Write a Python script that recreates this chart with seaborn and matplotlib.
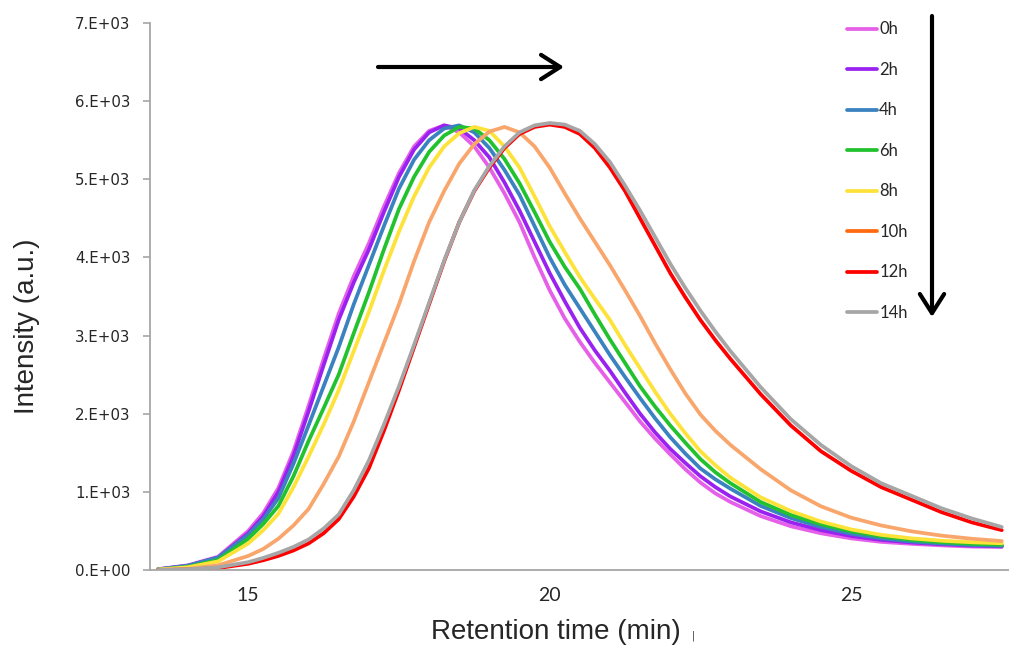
import numpy as np
import pandas as pd
import seaborn as sns
import matplotlib.pyplot as plt
from matplotlib.lines import Line2D

# retention time (min) and intensity
rt = [13.5, 14.0, 14.5,
      15.0, 15.25, 15.5, 15.75, 16.0, 16.25, 16.5, 16.75, 17.0, 17.25, 17.5, 17.75,
      18.0, 18.25, 18.5, 18.75, 19.0, 19.25, 19.5, 19.75, 20.0, 20.25, 20.5, 20.75,
      21.0, 21.25, 21.5, 21.75, 22.0, 22.25, 22.5, 22.75, 23.0,
      23.5, 24.0, 24.5, 25.0, 25.5, 26.0, 26.5, 27.0, 27.5]

h0 = [10, 60, 170,
      500, 730, 1050, 1520, 2100, 2700, 3280, 3760, 4180, 4650, 5080, 5420,
      5620, 5690, 5600, 5420, 5150, 4820, 4450, 4000, 3580, 3220, 2920, 2650,
      2400, 2150, 1900, 1680, 1480, 1290, 1120, 980, 870,
      690, 560, 470, 405, 360, 335, 315, 300, 295]
h2 = [8, 55, 160,
      470, 690, 1000, 1460, 2030, 2620, 3200, 3680, 4100, 4580, 5030, 5380,
      5600, 5690, 5650, 5500, 5280, 4960, 4600, 4200, 3800, 3440, 3100, 2810,
      2550, 2270, 2000, 1760, 1550, 1370, 1200, 1060, 940,
      750, 610, 510, 435, 385, 352, 330, 312, 302]
h4 = [8, 55, 160,
      450, 650, 920, 1360, 1850, 2350, 2850, 3400, 3900, 4400, 4880, 5250,
      5500, 5650, 5690, 5600, 5400, 5120, 4800, 4400, 4000, 3650, 3350, 3050,
      2750, 2470, 2200, 1940, 1700, 1490, 1300, 1160, 1040,
      820, 665, 550, 465, 405, 365, 338, 320, 308]
h6 = [5, 40, 130,
      400, 590, 820, 1200, 1650, 2070, 2500, 3030, 3550, 4100, 4620, 5030,
      5350, 5560, 5670, 5650, 5500, 5260, 4950, 4580, 4200, 3880, 3600, 3270,
      2950, 2650, 2350, 2090, 1850, 1630, 1420, 1250, 1110,
      870, 705, 585, 495, 430, 385, 355, 335, 322]
h8 = [5, 35, 110,
      340, 510, 720, 1060, 1450, 1860, 2300, 2800, 3300, 3830, 4330, 4780,
      5150, 5420, 5590, 5670, 5620, 5420, 5150, 4780, 4400, 4070, 3750, 3470,
      3200, 2880, 2580, 2280, 2000, 1750, 1520, 1340, 1180,
      930, 755, 620, 520, 450, 405, 375, 355, 342]
h10 = [3, 15, 60,
       180, 270, 400, 570, 780, 1100, 1450, 1900, 2400, 2900, 3400, 3950,
       4450, 4850, 5200, 5450, 5610, 5670, 5600, 5420, 5150, 4820, 4500, 4200,
       3900, 3580, 3250, 2900, 2570, 2260, 1990, 1780, 1600,
       1290, 1020, 815, 670, 570, 495, 440, 400, 370]
h12 = [0, 5, 25,
       80, 125, 180, 250, 340, 470, 650, 940, 1300, 1780, 2300, 2850,
       3400, 3950, 4450, 4850, 5150, 5400, 5580, 5670, 5700, 5670, 5580, 5400,
       5150, 4850, 4500, 4150, 3800, 3490, 3200, 2940, 2700,
       2250, 1850, 1520, 1270, 1060, 900, 740, 610, 510]
h14 = [0, 10, 35,
       100, 155, 220, 295, 390, 530, 710, 1020, 1400, 1860, 2350, 2880,
       3420, 3960, 4450, 4860, 5170, 5420, 5600, 5690, 5720, 5700, 5620, 5450,
       5220, 4920, 4600, 4260, 3920, 3610, 3320, 3050, 2800,
       2340, 1930, 1600, 1330, 1110, 950, 790, 660, 550]

labels = ['0h', '2h', '4h', '6h', '8h', '10h', '12h', '14h']
series = [h0, h2, h4, h6, h8, h10, h12, h14]
line_colors = ['#E65FE8', '#9A22F0', '#3A82C0', '#22C22E', '#FDE23A', '#F9A66C', '#FF0000', '#A6A6A6']
legend_colors = ['#E65FE8', '#9A22F0', '#3A82C0', '#22C22E', '#FDE23A', '#FF6A10', '#FF0000', '#A6A6A6']
ytick_vals = [0, 1000, 2000, 3000, 4000, 5000, 6000, 7000]
ytick_labels = ['0.E+00', '1.E+03', '2.E+03', '3.E+03', '4.E+03', '5.E+03', '6.E+03', '7.E+03']
xtick_vals = [15, 20, 25]

df = pd.concat([pd.DataFrame({'rt': rt, 'I': s, 'time': lab}) for lab, s in zip(labels, series)])

sns.set_style('white')
plt.rcParams['font.family'] = ['DejaVu Sans']

fig = plt.figure(figsize=(10.09, 6.46), dpi=100)
ax = fig.add_axes([150 / 1009, 76 / 646, 859 / 1009, 547 / 646])

sns.lineplot(data=df, x='rt', y='I', hue='time', palette=dict(zip(labels, line_colors)),
             estimator=None, sort=False, lw=2.7, legend=False, ax=ax)
for l in ax.lines:
    l.set_solid_joinstyle('round')

ax.set_xlim(13.37, 27.62)
ax.set_ylim(0, 7000)
ax.set_xticks(xtick_vals)
ax.set_xticklabels([str(v) for v in xtick_vals], fontfamily='Lato', fontsize=14)
ax.set_yticks(ytick_vals)
ax.set_yticklabels(ytick_labels, fontsize=10.8)
ax.tick_params(axis='x', length=0, pad=12)
ax.tick_params(axis='y', length=5, width=1.2, color='#A6A6A6', left=True, pad=9)
ax.set_xlabel('')
ax.set_ylabel('')
for side in ['top', 'right']:
    ax.spines[side].set_visible(False)
for side in ['left', 'bottom']:
    ax.spines[side].set_color('#A6A6A6')
    ax.spines[side].set_linewidth(1.3)

fig.text(556 / 1009, 1 - 632 / 646, 'Retention time (min)', ha='center', va='center',
         fontsize=20, fontfamily='Liberation Sans')
fig.text(27 / 1009, 1 - 326 / 646, 'Intensity (a.u.)', ha='center', va='center',
         rotation=90, fontsize=20, fontfamily='Liberation Sans')
fig.text(693 / 1009, 1 - 636 / 646, '|', ha='center', va='center', fontsize=7, color='#333333')

handles = [Line2D([0], [0], color=c, lw=2.7) for c in legend_colors]
ax.legend(handles, labels, loc='upper left', bbox_to_anchor=(0.811, 1.003), frameon=False,
          prop={'family': 'Lato', 'size': 12}, handlelength=1.8, handletextpad=0.15,
          labelspacing=1.47, borderpad=0, borderaxespad=0)

# shift arrows
arrow = dict(arrowstyle='->, head_length=0.55, head_width=0.35', lw=3, color='black',
             shrinkA=0, shrinkB=0, mutation_scale=25)
ax.annotate('', xy=(564, 646 - 67), xytext=(378, 646 - 67), xycoords='figure pixels',
            textcoords='figure pixels', arrowprops=arrow)
ax.annotate('', xy=(932, 646 - 317), xytext=(932, 646 - 16), xycoords='figure pixels',
            textcoords='figure pixels', arrowprops=arrow)

fig.savefig('out.png', dpi=100)
